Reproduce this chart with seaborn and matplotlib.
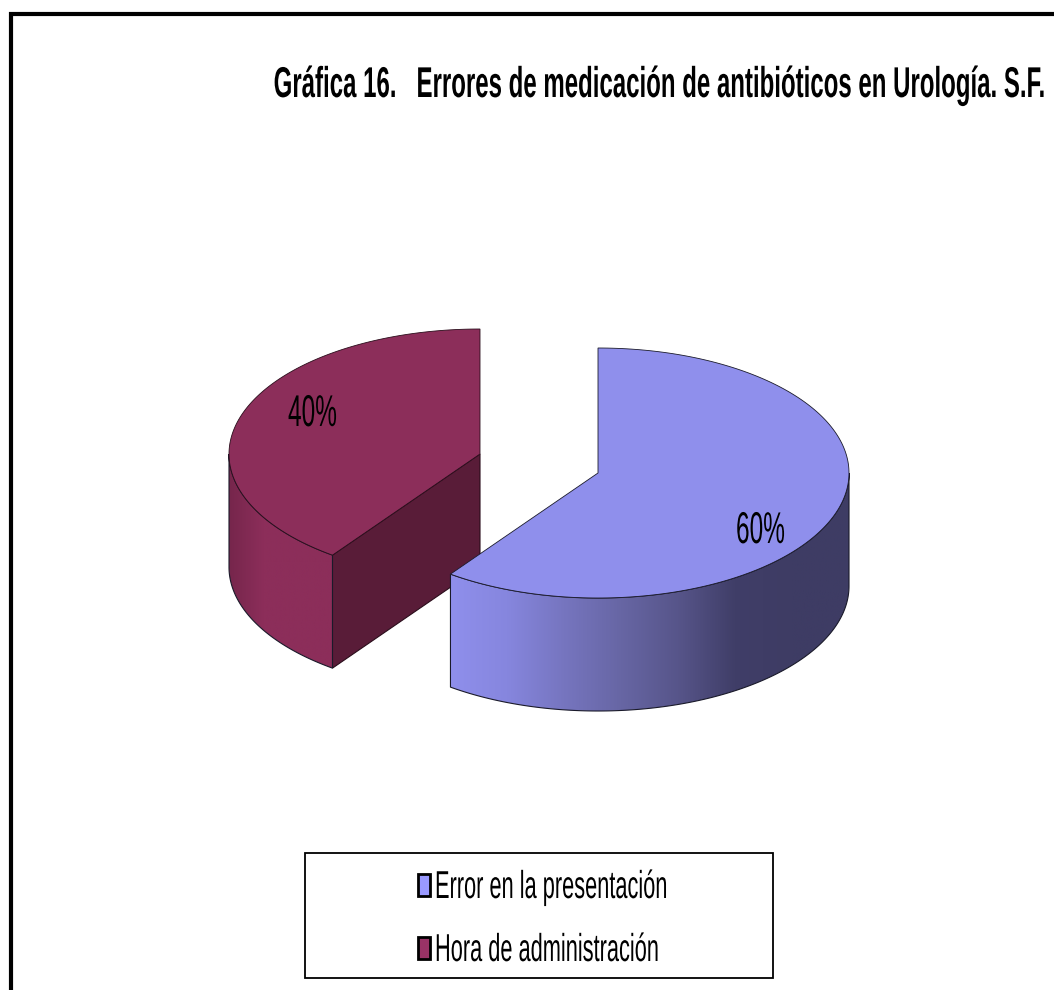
import numpy as np
import matplotlib
matplotlib.use("Agg")
import matplotlib.pyplot as plt
from matplotlib.colors import ListedColormap
from matplotlib.patches import Polygon, Rectangle
from matplotlib.patheffects import AbstractPathEffect
from matplotlib.transforms import Affine2D
import seaborn as sns

# Chart data
title = "Gráfica 16.   Errores de medicación de antibióticos en Urología. S.F."
categories = ["Error en la presentación", "Hora de administración"]
values = [60, 40]

sns.set_theme(style="white")
plt.rcParams["font.family"] = ["Liberation Sans", "DejaVu Sans"]

# Colours
blue_top = "#8f8fec"
red_top = "#8c2e5a"
red_cut = "#591c38"
legend_colors = ["#9999ff", "#993366"]
blue_side = sns.blend_palette(["#8f8fec", "#8686de", "#7675bf", "#6766a4", "#57558a", "#403e68", "#3e3c64", "#3e3c64"], 256)
red_side = sns.blend_palette(["#76264c", "#8c2e5a", "#8c2e5a", "#8c2e5a"], 256)

# Pie geometry, in pixels of the picture
rx, ry = 251, 125
depth = 113
blue_center = (598, 473)
red_center = (480, 454)


class Squeeze(AbstractPathEffect):
    # the reference has tall narrow lettering, no narrow font is installed
    def __init__(self, x0, y0, sx, sy):
        super().__init__()
        self.x0, self.y0 = x0, y0
        self.sx, self.sy = sx, sy

    def draw_path(self, renderer, gc, tpath, affine, rgbFace=None):
        squeeze = Affine2D().translate(-self.x0, -self.y0).scale(self.sx, self.sy).translate(self.x0, self.y0)
        renderer.draw_path(gc, tpath, affine + squeeze, rgbFace)


def narrow_text(ax, x, y, s, sx, sy=1, ha="left", **kwargs):
    # real text, scaled around its anchor when drawn
    txt = ax.text(x, y, s, color="black", ha=ha, va="baseline", zorder=6, **kwargs)
    txt.set_path_effects([Squeeze(x, 990 - y, sx, sy)])
    return txt


def rim(center, start, end):
    # points along the outer edge, angles clockwise from the top of the pie
    t = np.radians(np.linspace(start, end, 200))
    return np.column_stack([center[0] + rx * np.sin(t), center[1] - ry * np.cos(t)])


def shaded_side(ax, center, start, end, colors):
    top = rim(center, start, end)
    bottom = top + [0, depth]
    outline = np.vstack([top, bottom[::-1]])
    x0, x1 = outline[:, 0].min(), outline[:, 0].max()
    y0, y1 = outline[:, 1].min(), outline[:, 1].max()
    img = ax.imshow(np.linspace(0, 1, 256)[None, :], cmap=ListedColormap(colors), aspect="auto",
                    extent=(x0, x1, y1, y0), zorder=2)
    patch = Polygon(outline, closed=True, fc="none", ec="#1a1a2a", lw=0.8, zorder=3)
    ax.add_patch(patch)
    img.set_clip_path(patch)


fig = plt.figure(figsize=(10.54, 9.9), dpi=100)
ax = fig.add_axes([0, 0, 1, 1])

total = sum(values)
split = 360 * values[0] / total

# Red slice: runs from the end of the blue slice up to the top
red_edge = rim(red_center, split, 360)
cut_face = np.array([red_center, red_edge[0], red_edge[0] + [0, depth], (red_center[0], red_center[1] + depth)])
ax.add_patch(Polygon(cut_face, closed=True, fc=red_cut, ec="#2a0d1b", lw=0.8, zorder=2))
shaded_side(ax, red_center, split, 270, red_side)
ax.add_patch(Polygon(np.vstack([[red_center], red_edge]), closed=True, fc=red_top, ec="#2a0d1b", lw=0.6, zorder=4))

# Blue slice: clockwise from the top
blue_edge = rim(blue_center, 0, split)
shaded_side(ax, blue_center, 90, split, blue_side)
ax.add_patch(Polygon(np.vstack([[blue_center], blue_edge]), closed=True, fc=blue_top, ec="#1a1a2a", lw=0.6, zorder=4))

# Percent labels
narrow_text(ax, 736, 543, f"{values[0] / total:.0%}", 0.55, fontsize=32)
narrow_text(ax, 288, 426, f"{values[1] / total:.0%}", 0.55, fontsize=32)

# Title, set small enough to fit and stretched upward when drawn
narrow_text(ax, 1045, 97, title, 0.752, sy=31 / 23, ha="right", fontsize=23, fontweight="bold")

# Legend box
ax.add_patch(Rectangle((305, 853), 468, 125, fc="white", ec="black", lw=1.3, zorder=5))
for y, name, color in zip([898, 961], categories, legend_colors):
    ax.add_patch(Rectangle((418, y - 24), 12, 22, fc=color, ec="black", lw=2, zorder=6))
    narrow_text(ax, 435, y, name, 0.56, fontsize=28)

# Outer frame, cut off by the right and bottom of the picture
ax.plot([11, 11, 1054], [990, 14, 14], color="black", lw=3, solid_joinstyle="miter", zorder=1)

ax.set_xlim(0, 1054)
ax.set_ylim(990, 0)
ax.axis("off")

fig.savefig("out.png", dpi=100, facecolor="white")
